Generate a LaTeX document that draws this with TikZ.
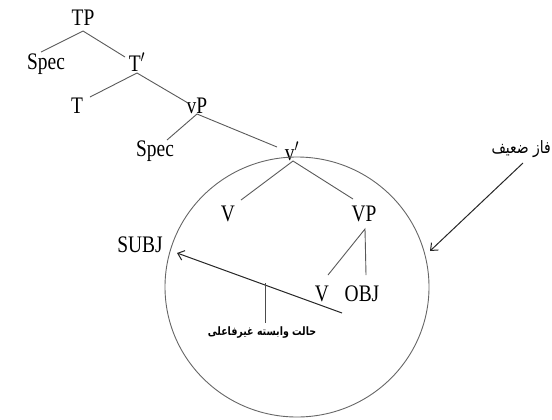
\documentclass[tikz,border=0pt]{standalone}
\usepackage{fontspec}
\usepackage{graphicx}
\setmainfont{Liberation Serif}
\newfontfamily\arabicfont[Script=Arabic]{DejaVu Sans}
\TeXXeTstate=1
\usetikzlibrary{arrows.meta}
\newcommand\tall[1]{\scalebox{1}[1.22]{#1}}
\begin{document}
\begin{tikzpicture}[x=1bp,y=-1bp,
  lbl/.style={inner sep=0pt,font=\fontsize{19.5}{22}\selectfont},
  br/.style={draw=black!65,line width=0.9bp},
  arr/.style={draw=black!85,line width=1bp,-{Straight Barb[length=6bp,width=10bp]}},
  fa/.style={inner sep=0pt}]
\useasboundingbox (0,0) rectangle (552,419);
% nodes
\node[lbl] (TP) at (83,18) {\tall{TP}};
\node[lbl] (spec1) at (46,64) {\tall{Spec}};
\node[lbl] (Tb) at (137,62) {\tall{T$'$}};
\node[lbl] (T) at (77,106) {\tall{T}};
\node[lbl] (vP) at (197,106) {\tall{vP}};
\node[lbl] (spec2) at (155,151) {\tall{Spec}};
\node[lbl] (vb) at (292,151) {\tall{v$'$}};
\node[lbl] (V) at (228,214) {\tall{V}};
\node[lbl] (VP) at (364,214) {\tall{VP}};
\node[lbl] (V2) at (322,294) {\tall{V}};
\node[lbl] (OBJ) at (362,294) {\tall{OBJ}};
\node[lbl] (SUBJ) at (140,245) {\tall{SUBJ}};
% circle
\draw[draw=black!60,line width=0.9bp] (297,287) circle [x radius=132,y radius=130];
% branch points
\coordinate (tp0) at (83,31);
\coordinate (tp1) at (41,52);
\coordinate (tp2) at (125,57);
\coordinate (tb0) at (137,73);
\coordinate (tb1) at (90,97);
\coordinate (tb2) at (188,103);
\coordinate (vp0) at (197,114);
\coordinate (vp1) at (167,140);
\coordinate (vp2) at (277,147);
\coordinate (vb0) at (293,161);
\coordinate (vb1) at (241,200);
\coordinate (vb2) at (353,199);
\coordinate (VP0) at (365,229);
\coordinate (VP1) at (328,275);
\coordinate (VP2) at (366,275);
\draw[br] (tp1) -- (tp0) -- (tp2);
\draw[br] (tb1) -- (tb0) -- (tb2);
\draw[br] (vp1) -- (vp0) -- (vp2);
\draw[br] (vb1) -- (vb0) -- (vb2);
\draw[br] (VP1) -- (VP0) -- (VP2);
% arrows
\coordinate (a0) at (342,313);
\coordinate (a1) at (177,253);
\draw[arr] (a0) -- (a1);
\coordinate (m0) at (265,283);
\coordinate (m1) at (265,323);
\draw[draw=black!70,line width=0.9bp] (m0) -- (m1);
\node[fa,font=\arabicfont\bfseries\fontsize{9.5}{12}\selectfont] (case) at (262,333) {\tall{\beginR حالت وابسته غیرفاعلی\endR}};
\node[fa,anchor=east,font=\arabicfont\fontsize{14}{16}\selectfont] (weak) at (551,149) {\tall{\beginR فاز ضعیف\endR}};
\coordinate (w0) at (523,163);
\coordinate (w1) at (430,251);
\draw[arr] (w0) -- (w1);
\end{tikzpicture}
\end{document}
